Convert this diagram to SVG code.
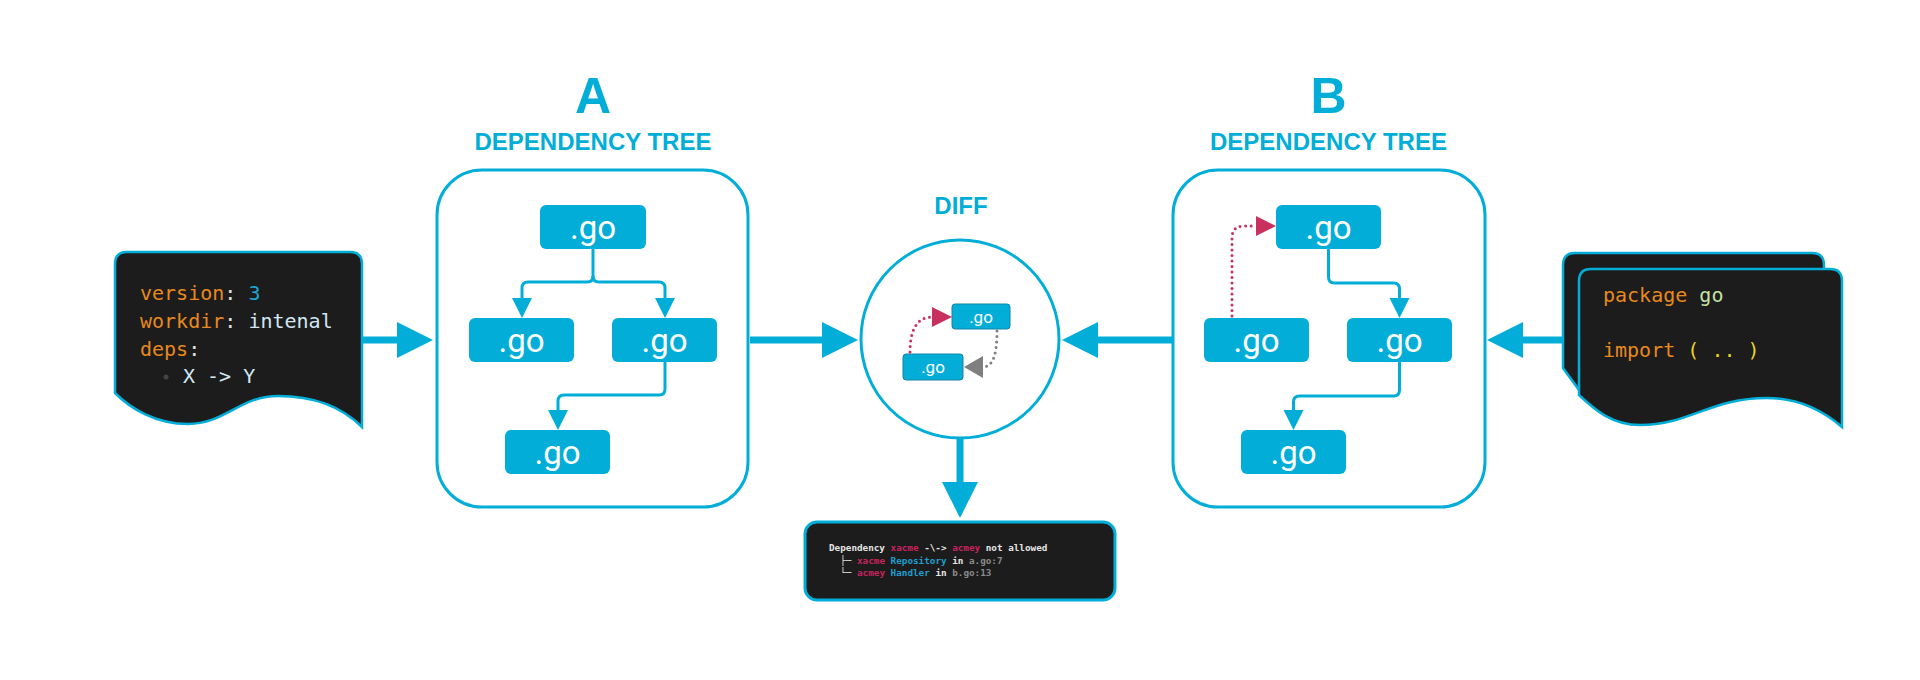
<svg xmlns="http://www.w3.org/2000/svg" width="1920" height="680" viewBox="0 0 1920 680">
<defs>
<style>
.hd{font-family:"Liberation Sans",Arial,sans-serif;font-weight:bold;fill:#02AED8;text-anchor:middle}
.box{fill:#fff;stroke:#02AED8;stroke-width:3}
.nd{fill:#02AED8}
.ndt{font-family:Roboto,"Liberation Sans",sans-serif;font-size:33px;fill:#fff;text-anchor:middle}
.sn{fill:#02AED8;stroke:#1384a6;stroke-width:1}
.snt{font-family:Roboto,"Liberation Sans",sans-serif;font-size:17px;fill:#fff;text-anchor:middle}
.doc{fill:#1c1c1c;stroke:#02AED8;stroke-width:2.5}
.mono{font-family:"DejaVu Sans Mono","Liberation Mono",monospace;font-size:20px}
.term{font-family:"DejaVu Sans Mono","Liberation Mono",monospace;font-size:9.3px;font-weight:bold;fill:#e6e6e6}
.or{fill:#E8891E}.cy{fill:#1BA6D2}.lt{fill:#d3e6f3}.gr{fill:#c5e1a5}.ye{fill:#e8d31f}
.cr{fill:#c8235f}.tc{fill:#1e9fd0}.gy{fill:#8a8a8a}
.ln{fill:none;stroke:#02AED8;stroke-width:3}
.big{fill:none;stroke:#02AED8;stroke-width:7}
.dotr{fill:none;stroke:#c8305e;stroke-width:3;stroke-linecap:round;stroke-dasharray:0 5.5}
.dotg{fill:none;stroke:#7f7f7f;stroke-width:3;stroke-linecap:round;stroke-dasharray:0 5.5}
</style>
<marker id="ah" markerUnits="userSpaceOnUse" markerWidth="20" markerHeight="20" refX="0" refY="10" orient="auto" overflow="visible"><path d="M0,0 L20,10 L0,20 z" fill="#02AED8"/></marker>
<marker id="bh" markerUnits="userSpaceOnUse" markerWidth="36" markerHeight="36" refX="0" refY="18" orient="auto" overflow="visible"><path d="M0,0 L36,18 L0,36 z" fill="#02AED8"/></marker>
<marker id="rh" markerUnits="userSpaceOnUse" markerWidth="20" markerHeight="20" refX="0" refY="10" orient="auto" overflow="visible"><path d="M0,0 L20,10 L0,20 z" fill="#c8305e"/></marker>
<marker id="gh" markerUnits="userSpaceOnUse" markerWidth="20" markerHeight="22" refX="0" refY="11" orient="auto" overflow="visible"><path d="M0,0 L19,11 L0,22 z" fill="#7f7f7f"/></marker>
</defs>
<rect width="1920" height="680" fill="#fff"/>

<g id="connectors">
<path class="big" d="M362,340 H397" marker-end="url(#bh)"/>
<path class="big" d="M750,340 H822" marker-end="url(#bh)"/>
<path class="big" d="M1172,340 H1098" marker-end="url(#bh)"/>
<path class="big" d="M1562,340 H1523" marker-end="url(#bh)"/>
<path class="big" d="M960,439 V482" marker-end="url(#bh)"/>
</g>

<g id="docA">
<path class="doc" d="M127,252 H350 Q362,252 362,264 V427 C340,405 310,396 278,396 C240,396 225,424 188,424 C155,424 130,408 115,393 V264 Q115,252 127,252 Z"/>
<text class="mono" x="140" y="300"><tspan class="or">version</tspan><tspan fill="#e0e0e0">: </tspan><tspan class="cy">3</tspan></text>
<text class="mono" x="140" y="328"><tspan class="or">workdir</tspan><tspan fill="#e0e0e0">: </tspan><tspan class="lt">intenal</tspan></text>
<text class="mono" x="140" y="356"><tspan class="or">deps</tspan><tspan fill="#e0e0e0">:</tspan></text>
<circle cx="166" cy="377" r="2.5" fill="#444"/>
<text class="mono lt" x="183" y="383">X -&gt; Y</text>
</g>

<g id="treeA">
<text class="hd" x="593" y="113" font-size="50">A</text>
<text class="hd" x="593" y="150" font-size="24">DEPENDENCY TREE</text>
<rect class="box" x="437" y="170" width="311" height="337" rx="45"/>
<g id="a1"><rect class="nd" x="540" y="205" width="106" height="44" rx="6"/><text class="ndt" x="593" y="239">.go</text></g>
<g id="a2"><rect class="nd" x="469" y="318" width="105" height="44" rx="6"/><text class="ndt" x="521.5" y="352">.go</text></g>
<g id="a3"><rect class="nd" x="612" y="318" width="105" height="44" rx="6"/><text class="ndt" x="664.5" y="352">.go</text></g>
<g id="a4"><rect class="nd" x="505" y="430" width="105" height="44" rx="6"/><text class="ndt" x="557.5" y="464">.go</text></g>
<g id="treeA-connectors">
<path class="ln" d="M593,249 V276 Q593,282 587,282 H528 Q522,282 522,288 V298" marker-end="url(#ah)"/>
<path class="ln" d="M593,276 Q593,282 599,282 H659 Q665,282 665,288 V298" marker-end="url(#ah)"/>
<path class="ln" d="M665,362 V389 Q665,395 659,395 H564 Q558,395 558,401 V410" marker-end="url(#ah)"/>
</g>
</g>

<g id="diff">
<text class="hd" x="961" y="214" font-size="24">DIFF</text>
<circle cx="960" cy="339" r="99" fill="#fff" stroke="#02AED8" stroke-width="3"/>
<g id="d1"><rect class="sn" x="952" y="304" width="58" height="25" rx="3"/><text class="snt" x="981" y="323">.go</text></g>
<g id="d2"><rect class="sn" x="903" y="354" width="60" height="26" rx="3"/><text class="snt" x="933" y="373">.go</text></g>
<path class="dotr" d="M910,352 C910,330 917,317 932,317" marker-end="url(#rh)"/>
<path class="dotg" d="M997,331 C997,354 993,367 983,367" marker-end="url(#gh)"/>
</g>

<g id="treeB">
<text class="hd" x="1328.5" y="113" font-size="50">B</text>
<text class="hd" x="1328.5" y="150" font-size="24">DEPENDENCY TREE</text>
<rect class="box" x="1173" y="170" width="312" height="337" rx="45"/>
<g id="b1"><rect class="nd" x="1276" y="205" width="105" height="44" rx="6"/><text class="ndt" x="1328.5" y="239">.go</text></g>
<g id="b2"><rect class="nd" x="1204" y="318" width="105" height="44" rx="6"/><text class="ndt" x="1256.5" y="352">.go</text></g>
<g id="b3"><rect class="nd" x="1347" y="318" width="105" height="44" rx="6"/><text class="ndt" x="1399.5" y="352">.go</text></g>
<g id="b4"><rect class="nd" x="1241" y="430" width="105" height="44" rx="6"/><text class="ndt" x="1293.5" y="464">.go</text></g>
<g id="treeB-connectors">
<path class="ln" d="M1328.5,249 V277 Q1328.5,283 1334.5,283 H1393.5 Q1399.5,283 1399.5,289 V298" marker-end="url(#ah)"/>
<path class="ln" d="M1399.5,362 V390 Q1399.5,396 1393.5,396 H1299.5 Q1293.5,396 1293.5,402 V410" marker-end="url(#ah)"/>
<path class="dotr" d="M1232,316 V238 Q1232,226 1244,226 H1256" marker-end="url(#rh)"/>
</g>
</g>

<g id="docB">
<path class="doc" d="M1575,253 H1812 Q1824,253 1824,265 V390 H1579 L1563,368 V265 Q1563,253 1575,253 Z"/>
<path class="doc" d="M1591,269 H1830 Q1842,269 1842,281 V427 C1820,408 1795,398 1767,398 C1710,398 1690,425 1640,425 C1612,425 1595,410 1579,395 V281 Q1579,269 1591,269 Z"/>
<text class="mono" x="1603" y="302"><tspan class="or">package</tspan> <tspan class="gr">go</tspan></text>
<text class="mono" x="1603" y="357"><tspan class="or">import</tspan> <tspan class="ye">( .. )</tspan></text>
</g>

<g id="terminal">
<rect x="805" y="522" width="310" height="78" rx="12" fill="#1c1c1c" stroke="#02AED8" stroke-width="3"/>
<text class="term" x="829" y="551" xml:space="preserve">Dependency <tspan class="cr">xacme</tspan> -\-&gt; <tspan class="cr">acmey</tspan> not allowed</text>
<text class="term" x="829" y="564" xml:space="preserve">  ├─ <tspan class="cr">xacme</tspan> <tspan class="tc">Repository</tspan> in <tspan class="gy">a.go:7</tspan></text>
<text class="term" x="829" y="576" xml:space="preserve">  └─ <tspan class="cr">acmey</tspan> <tspan class="tc">Handler</tspan> in <tspan class="gy">b.go:13</tspan></text>
</g>
</svg>
